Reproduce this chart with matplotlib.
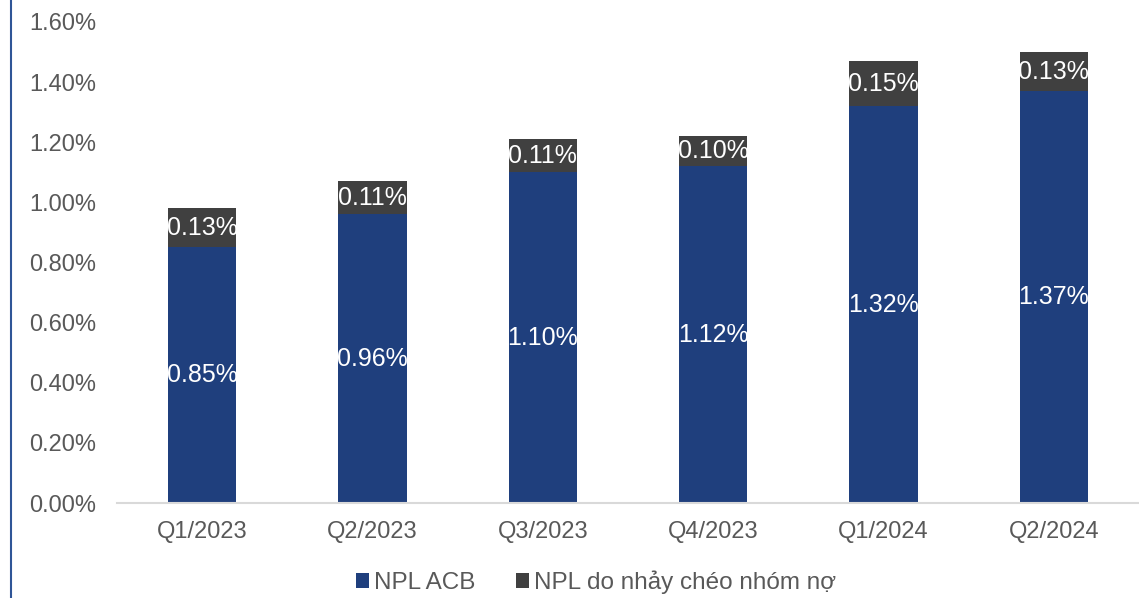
import matplotlib
matplotlib.use("Agg")
import matplotlib.pyplot as plt
from matplotlib.lines import Line2D
from matplotlib.patches import Patch
from matplotlib.ticker import FuncFormatter

plt.rcParams['font.family'] = ['Liberation Sans', 'DejaVu Sans']

quarters = ["Q1/2023", "Q2/2023", "Q3/2023", "Q4/2023", "Q1/2024", "Q2/2024"]
npl_acb = [0.85, 0.96, 1.10, 1.12, 1.32, 1.37]
npl_cross = [0.13, 0.11, 0.11, 0.10, 0.15, 0.13]
series_names = ["NPL ACB", "NPL do nhảy chéo nhóm nợ"]

blue = "#1F3F7D"
gray = "#404040"
text_gray = "#595959"

fig = plt.figure(figsize=(11.39, 5.98), dpi=100)
ax = fig.add_axes([117 / 1139, 95 / 598, 1022 / 1139, 481 / 598])

x = range(len(quarters))
width = 0.40
ax.bar(x, npl_acb, width, color=blue, zorder=2)
ax.bar(x, npl_cross, width, bottom=npl_acb, color=gray, zorder=2)

label_fs = 18
for i, (a, c) in enumerate(zip(npl_acb, npl_cross)):
    ax.text(i, a / 2, f"{a:.2f}%", ha="center", va="center", color="white", fontsize=label_fs)
    ax.text(i, a + c / 2, f"{c:.2f}%", ha="center", va="center", color="white", fontsize=label_fs)

ax.set_xlim(-0.5, len(quarters) - 0.5)
ax.set_ylim(0, 1.6)
ax.set_yticks([i * 0.2 for i in range(9)])
ax.yaxis.set_major_formatter(FuncFormatter(lambda v, p: f"{v:.2f}%"))
ax.set_xticks(list(x))
ax.set_xticklabels(quarters)
ax.tick_params(axis="both", length=0, labelsize=17, labelcolor=text_gray)
ax.tick_params(axis="y", pad=15)
ax.tick_params(axis="x", pad=13)

for s in ["top", "right", "left"]:
    ax.spines[s].set_visible(False)
ax.spines["bottom"].set_color("#D9D9D9")
ax.spines["bottom"].set_linewidth(1.5)

handles = [Patch(facecolor=blue), Patch(facecolor=gray)]
fig.legend(handles, series_names, loc="center", bbox_to_anchor=(596 / 1139, 1 - 582 / 598),
           ncol=2, frameon=False, fontsize=17.5, labelcolor=text_gray,
           handlelength=0.55, handleheight=0.55, handletextpad=0.2, columnspacing=1.65,
           borderpad=0.2)

fig.add_artist(Line2D([11 / 1139, 11 / 1139], [0, 1], color="#2F5597", linewidth=1.5,
                      transform=fig.transFigure))

fig.savefig("out.png", dpi=100)
